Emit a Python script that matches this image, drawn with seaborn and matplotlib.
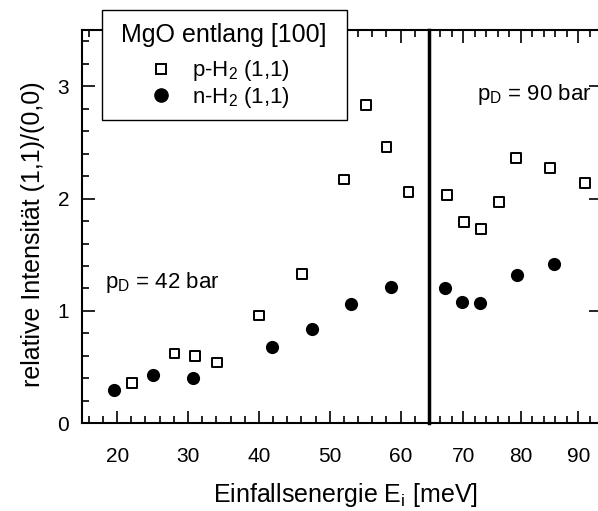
import pandas as pd
import seaborn as sns
import matplotlib.pyplot as plt
from matplotlib.lines import Line2D
from matplotlib.patches import Rectangle
from matplotlib.ticker import MultipleLocator

# data (energy in meV, ratio (1,1)/(0,0))
p_energy = [22.1, 28.1, 31.0, 34.1, 40.0, 46.1, 52.0, 55.1, 58.0, 61.1,
            67.1, 70.1, 73.1, 76.2, 79.2, 85.1, 91.2]
p_ratio = [0.36, 0.62, 0.60, 0.54, 0.96, 1.33, 2.17, 2.83, 2.46, 2.06,
           2.03, 1.79, 1.73, 1.97, 2.36, 2.27, 2.14]
n_energy = [19.5, 25.1, 30.7, 41.8, 47.5, 53.0, 58.6,
            66.7, 69.8, 72.9, 79.3, 85.7]
n_ratio = [0.30, 0.43, 0.40, 0.68, 0.84, 1.06, 1.21,
           1.20, 1.08, 1.07, 1.32, 1.42]
break_energy = 64  # p_D changes from 42 bar to 90 bar here

df = pd.concat([
    pd.DataFrame({'energy': p_energy, 'ratio': p_ratio, 'series': 'p'}),
    pd.DataFrame({'energy': n_energy, 'ratio': n_ratio, 'series': 'n'}),
])

sns.set_style("ticks")
plt.rcParams['font.family'] = ['Liberation Sans', 'DejaVu Sans']
plt.rcParams['mathtext.fontset'] = 'custom'
plt.rcParams['mathtext.rm'] = 'Liberation Sans'
plt.rcParams['mathtext.it'] = 'Liberation Sans:italic'
for key in ['text.color', 'axes.edgecolor', 'axes.labelcolor',
            'xtick.color', 'ytick.color']:
    plt.rcParams[key] = 'black'

fig = plt.figure(figsize=(5.98, 5.11), dpi=100)
ax1 = fig.add_axes([0.1366, 0.1716, 0.5808, 0.7697])
ax2 = fig.add_axes([0.7174, 0.1716, 0.2880, 0.7697])
ax2.patch.set_alpha(0)

for ax, lo, hi in [(ax1, 15, break_energy), (ax2, break_energy, 94)]:
    sub = df[(df['energy'] > lo) & (df['energy'] < hi)]
    sns.scatterplot(data=sub[sub['series'] == 'p'], x='energy', y='ratio',
                    marker='s', s=48, color='black', edgecolor='black',
                    linewidth=1.4, legend=False, ax=ax)
    ax.collections[-1].set_facecolor('none')
    sns.scatterplot(data=sub[sub['series'] == 'n'], x='energy', y='ratio',
                    marker='o', s=90, color='black', edgecolor='black',
                    linewidth=0, legend=False, ax=ax)
    ax.set_xlim(lo, hi)
    ax.set_ylim(0, 3.5)
    ax.set_xlabel('')
    ax.set_ylabel('')
    ax.xaxis.set_major_locator(MultipleLocator(10))
    ax.xaxis.set_minor_locator(MultipleLocator(2))
    for sp in ax.spines.values():
        sp.set_linewidth(1.5)

ax1.yaxis.set_major_locator(MultipleLocator(1))
ax1.yaxis.set_minor_locator(MultipleLocator(0.2))
ax1.tick_params(which='both', direction='in', top=True, right=False,
                width=1.2, labelsize=15)
ax1.tick_params(axis='x', which='both', pad=17)
ax1.tick_params(axis='y', which='both', pad=9)
ax1.tick_params(which='major', length=9)
ax1.tick_params(which='minor', length=5)
ax1.spines['right'].set_linewidth(2.5)

ax2.yaxis.set_major_locator(MultipleLocator(1))
ax2.tick_params(which='both', direction='in', top=True, right=True,
                left=False, labelleft=False, width=1.2, labelsize=15)
ax2.tick_params(axis='x', which='both', pad=17)
ax2.tick_params(which='major', length=9)
ax2.tick_params(which='minor', length=5)
ax2.spines['left'].set_visible(False)

ax1.text(18.3, 1.25, r'p$_\mathrm{D}$ = 42 bar', fontsize=16, va='center')
ax2.text(72.4, 2.93, r'p$_\mathrm{D}$ = 90 bar', fontsize=16, va='center')

# legend: white box over the top spine, title and two entries
fig.add_artist(Rectangle((101.7 / 598, 1 - 120 / 511), 245 / 598, 110 / 511,
                         transform=fig.transFigure, facecolor='white',
                         edgecolor='black', linewidth=1.0))
fig.text(224 / 598, 1 - 42 / 511, 'MgO entlang [100]', ha='center',
         va='baseline', fontsize=18)
handles = [
    Line2D([], [], ls='none', marker='s', mfc='none', mec='black', mew=1.4, ms=7.8),
    Line2D([], [], ls='none', marker='o', mfc='black', mec='black', ms=9.5),
]
fig.legend(handles, [r'p-H$_2$ (1,1)', r'n-H$_2$ (1,1)'],
           loc='center', bbox_to_anchor=(214 / 598, 1 - 84 / 511),
           borderaxespad=0, borderpad=0, fontsize=16, frameon=False,
           labelspacing=0.05, handletextpad=0.4)

fig.text(0.577, 0.031, r'Einfallsenergie E$_\mathrm{i}$ [meV]',
         ha='center', va='center', fontsize=18)
fig.text(0.055, 0.542, 'relative Intensität (1,1)/(0,0)', rotation=90,
         ha='center', va='center', fontsize=18)

fig.savefig('out.png', dpi=100)
